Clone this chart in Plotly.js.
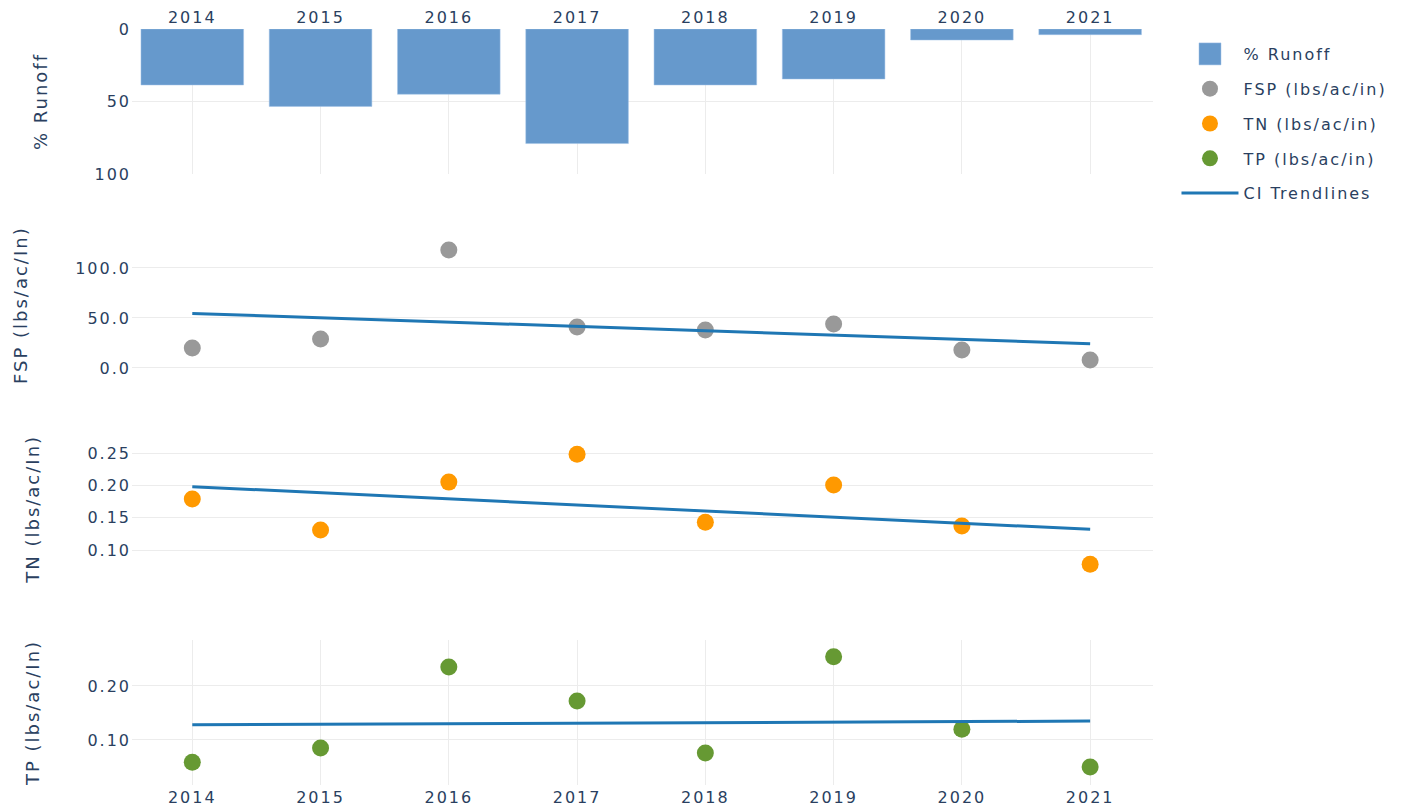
<!DOCTYPE html>
<html>
<head>
<meta charset="utf-8">
<script src="https://cdn.plot.ly/plotly-3.0.1.min.js"></script>
<style>
html, body { margin: 0; padding: 0; background: #fff; }
#chart { width: 1406px; height: 812px; }
#chart text { letter-spacing: 2px; }
#chart .legend .scrollbox { clip-path: none !important; }
</style>
</head>
<body>
<div id="chart"></div>
<script>
// ---- data ----
const years = [2014, 2015, 2016, 2017, 2018, 2019, 2020, 2021];
const runoffPct = [38.6, 53.4, 45, 79, 38.6, 34.5, 7.6, 3.9];
const fsp = [20, 29, 118, 41, 38, 44, 18, 8];
const tn = [0.179, 0.131, 0.205, 0.248, 0.143, 0.2005, 0.137, 0.078];
const tp = [0.059, 0.085, 0.235, 0.172, 0.076, 0.254, 0.120, 0.050];
const trendYears = [2014, 2021];
const fspTrend = [54.5, 24.2];
const tnTrend = [0.198, 0.132];
const tpTrend = [0.128, 0.135];

const FONT = 'DejaVu Sans, Verdana, sans-serif';
const TXT = '#2a3f5f';
const GRID = '#ececec';
const TREND = 'rgb(31,119,180)';
const xr = [2013.53, 2021.49];

const traces = [
  { type: 'bar', x: years, y: runoffPct, name: '% Runoff', xaxis: 'x', yaxis: 'y',
    marker: { color: 'rgb(102,153,204)', line: { width: 0.5, color: 'rgba(160,195,230,1)' } },
    width: 0.8, legendgroup: 'a', hoverinfo: 'x+y' },
  { type: 'scatter', mode: 'markers', x: years, y: fsp, name: 'FSP (lbs/ac/in)', xaxis: 'x2', yaxis: 'y2',
    marker: { color: 'rgb(153,153,153)', size: 17 }, legendgroup: 'b' },
  { type: 'scatter', mode: 'markers', x: years, y: tn, name: 'TN (lbs/ac/in)', xaxis: 'x3', yaxis: 'y3',
    marker: { color: 'rgb(255,153,0)', size: 17 }, legendgroup: 'c' },
  { type: 'scatter', mode: 'markers', x: years, y: tp, name: 'TP (lbs/ac/in)', xaxis: 'x4', yaxis: 'y4',
    marker: { color: 'rgb(102,153,51)', size: 17 }, legendgroup: 'd' },
  { type: 'scatter', mode: 'lines', x: trendYears, y: fspTrend, name: 'CI Trendlines', xaxis: 'x2', yaxis: 'y2',
    line: { color: TREND, width: 3 }, legendgroup: 'e' },
  { type: 'scatter', mode: 'lines', x: trendYears, y: tnTrend, name: 'CI Trendlines', xaxis: 'x3', yaxis: 'y3',
    line: { color: TREND, width: 3 }, legendgroup: 'e', showlegend: false },
  { type: 'scatter', mode: 'lines', x: trendYears, y: tpTrend, name: 'CI Trendlines', xaxis: 'x4', yaxis: 'y4',
    line: { color: TREND, width: 3 }, legendgroup: 'e', showlegend: false }
];

function xa(extra) {
  return Object.assign({ range: xr, dtick: 1, tick0: 2014, showline: false, zeroline: false,
    gridcolor: GRID, ticks: '', tickfont: { size: 16, color: TXT } }, extra);
}
function ya(extra) {
  return Object.assign({ showline: false, zeroline: false, gridcolor: GRID, ticks: '',
    tickfont: { size: 16, color: TXT }, automargin: true }, extra);
}

const layout = {
  width: 1406, height: 812,
  margin: { l: 132, r: 253, t: 29, b: 27 },
  paper_bgcolor: '#fff', plot_bgcolor: '#fff',
  font: { family: FONT, color: TXT, size: 16 },
  showlegend: true,
  bargap: 0.2,
  legend: { x: 1.023, y: 0.9894, xanchor: 'left', yanchor: 'top', tracegroupgap: 11,
    traceorder: 'grouped', font: { size: 16, color: TXT }, itemwidth: 57 },
  xaxis: xa({ anchor: 'y', side: 'top', showgrid: true, ticklabelstandoff: 2 }),
  xaxis2: xa({ anchor: 'y2', showgrid: false, showticklabels: false }),
  xaxis3: xa({ anchor: 'y3', showgrid: false, showticklabels: false }),
  xaxis4: xa({ anchor: 'y4', showgrid: true, ticklabelstandoff: 1 }),
  yaxis: ya({ domain: [0.8082, 1], range: [100, 0], dtick: 50,
    title: { text: '% Runoff', font: { size: 18, color: TXT }, standoff: 48 } }),
  yaxis2: ya({ domain: [0.5388, 0.7306], range: [-9.7, 135.3], dtick: 50, tickformat: '.1f',
    title: { text: 'FSP (lbs/ac/In)', font: { size: 18, color: TXT }, standoff: 52 } }),
  yaxis3: ya({ domain: [0.2694, 0.4612], range: [0.0516, 0.2758], dtick: 0.05, tickformat: '.2f',
    title: { text: 'TN (lbs/ac/In)', font: { size: 18, color: TXT }, standoff: 51 } }),
  yaxis4: ya({ domain: [0, 0.1918], range: [0.0167, 0.285], dtick: 0.1, tickformat: '.2f',
    title: { text: 'TP (lbs/ac/In)', font: { size: 18, color: TXT }, standoff: 51 } })
};

Plotly.newPlot('chart', traces, layout, { displayModeBar: false, responsive: false }).then(function (gd) {
  // enlarge the bar swatch in the legend to match the reference
  gd.querySelectorAll('.legend .legendpoints path').forEach(function (p) {
    const d = (p.getAttribute('d') || '').replace(/\s/g, '');
    if (d === 'M6,6H-6V-6H6Z') p.setAttribute('d', 'M11,11H-11V-11H11Z');
  });
});
</script>
</body>
</html>
